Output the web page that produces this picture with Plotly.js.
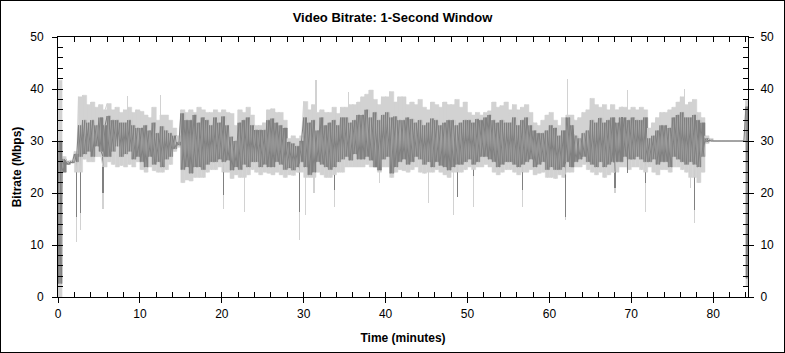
<!DOCTYPE html>
<html>
<head>
<meta charset="utf-8">
<script src="https://cdn.plot.ly/plotly-3.0.1.min.js"></script>
<style>
  html, body { margin: 0; padding: 0; background: #fff; }
  #frame { width: 783px; height: 351px; border: 1px solid #000; }
</style>
</head>
<body>
<div id="frame"><div id="chart"></div></div>
<script>
// ---- DATA ----
const chartTitle = 'Video Bitrate: 1-Second Window';
const xTitle = 'Time (minutes)';
const yTitle = 'Bitrate (Mbps)';
const sampleMinutes = 0.25; // spacing between samples, minutes

// Light gray series (peak), Mbps, one row per minute (4 samples per minute)
const peakMbps = [
  41.7,0,24,27,  26.2,25.6,26.3,26,  28,24,38.5,24,  38.8,26.5,37,26,  37.5,26,36.5,27,
  37,27,25,36,  37.2,26,36,25.5,  36.5,25,35.5,25.3,  36,25,36.5,25.5,  35.5,25,36,26,
  35.7,24.5,35,24,  34.5,25,36.5,24.3,  34,24,35,24,  35,24.5,34,25.5,  32.5,28,31,28.8,
  36,22,35.5,22.5,  36,22.3,35.5,23,  36.5,23,36,23,  35.5,24,35.5,24.5,  36,24.5,35.5,25,
  36,24,35.5,24,  35.3,22.8,33,23.5,  36,23,35.5,23,  36.5,23.5,35,24.5,  33,24,33,23.5,
  33.5,24,36,23.8,  36.2,23.5,35.5,24,  35.5,23.5,34,23,  30.5,23.5,31,23.4,  30.5,24,24,31,
  37.6,23,36,23,  37,23,35.5,24,  36,23.5,35.5,23,  35.5,23,36.5,23.5,  35.3,24,36.5,24,
  36.5,25,37,25,  37,25,37.5,25,  38.5,25,39,25.5,  39.8,25,38,25,  37,24,38.5,25,
  38.5,25,39.5,23,  37.5,24,38.5,24.5,  38.5,24.3,37,24,  37.5,24.5,37,25,  38,24,36.5,23.8,
  36,24,37.5,24,  37,24.5,36.5,24,  37.5,23.5,37,23,  37,24,38,24,  36.5,24,37.5,24.5,
  35.5,25,35,24.5,  35.5,25,35,25,  35.5,25.5,35.8,25,  37.5,24,36.5,23.5,  36.8,24,37.5,24.5,
  36,24.5,37,24,  36,23.5,36.5,24,  37,24,35.5,24.5,  33.5,23.5,33,23.8,  34,24,35,23,
  35.5,23,34,22.8,  33,23.5,34.5,23,  24,35,24,35,  34,25,34.5,25,  35.5,25.5,36,24.5,
  38.2,24,37,23.5,  36.5,24,37,23,  36,23.5,37,24,  24,36,25,36.5,  36.5,25,36,24.5,
  36.5,25,36,25,  36.5,24.5,36,24,  32.5,25,33.5,24,  34.5,23.5,35.5,24.5,  35.5,24.5,36,24,
  36.5,25,37.5,25,  38.5,24.5,37,24,  37.5,23,38,23,  35.5,22,34.5,24,  31,29.5,30.5,30,
  30,30,30,30,  30,30,30,30,  30,30,30,30,  30,30,30,30,
  37.8,2.1
];

// Dark gray series (average), Mbps, one row per minute (4 samples per minute)
const avgMbps = [
  30,2.6,24,26.5,  26,25.5,26,25.8,  27.5,26,33,27,  34,27.5,33.5,28,  34,27,33,29,
  34.5,28,27,33,  34.8,27,34,28,  34,29,33.5,27,  33.5,27.5,34,28,  33,26.5,32.5,27,
  32.5,26,33,25,  32,27,33.5,25.5,  31.5,26,32.8,25,  32,26.5,31.5,27,  31,28.5,29.8,29.2,
  35.3,24.5,34,25,  34,23.8,35,25,  33.5,25,34.5,24.5,  34,25.5,33,26,  34.5,26,33.5,26.5,
  34.7,26,33,26.3,  30.8,24.4,30,25,  33.5,24.5,34,25.5,  34.5,25,33,26,  32.1,26,32.1,25,
  32.1,25.5,34,25,  34.3,25,33.5,26,  33,25.5,32.5,24.5,  29.8,24.8,29.5,24.4,  29,25,26,30,
  34.5,25,33.5,23.5,  34,24,32,26,  34.5,25.5,33,25,  33.5,24.5,34,25,  33,26,34.5,26.5,
  34.5,27,33.5,26.3,  34,27.5,35,26.5,  35,26.5,36,27,  34.5,26.3,35.5,25,  34,24.4,35,26.5,
  35.5,27,34.5,23.8,  34.7,25,34,26,  34,26.5,34.5,25.5,  34.2,26,33.5,27,  34,26.5,33,25.5,
  33.5,26,34.3,25,  34,26,33,25.3,  33.5,25,34,24.4,  34,25,33,25.5,  33.5,25.5,34,26,
  34,26.5,33.5,25.5,  34.2,26,34,27,  34.5,27,35,26.5,  34,26,33.5,25,  34,25.5,33.5,26,
  33.5,26,34.5,25.5,  33,25,34,25.5,  34.5,26,33,26.5,  32,25,31.5,25.5,  31.5,26,32,24.5,
  33,25,32.5,24.5,  31,24.5,32,25,  26,34.5,25,33,  31,26,30.5,26.5,  31.5,27,32,26,
  34,25.5,33.5,25,  34.4,26,33.5,25,  34,25.5,34.5,26,  26,33.5,26,34.5,  34.5,27,34,26.5,
  34.5,26.5,34,27,  34,26.5,34.5,26,  30.5,26,31,26.5,  32,25.5,33,26,  33,26,32.5,25,
  34.5,27,35,26.5,  35.5,26,34.5,25.5,  34.5,26,35,25.5,  34,25,33.5,27,  30.5,29.8,30.2,30,
  30,30,30,30,  30,30,30,30,  30,30,30,30,  30,30,30,30,
  36.6,3.6
];

// Isolated one-sample excursions (minutes, Mbps)
const avgExcursionMinutes = [2.25, 2.75, 5.5, 20.25, 29.5, 33.75, 48.75, 50.75, 56.75, 62.0, 68.0, 69.5, 71.75, 77.75];
const avgExcursionMbps    = [15.4, 16.1, 20,  19.6,  16.4, 20.6,  19.3,  23.3,  20.6,  15.4, 21,   23.8, 22,    16.7];

const peakExcursionMinutes = [2.25, 2.75, 5.5, 8.5, 12.5, 20.25, 22.75, 29.5, 30.25, 31.25, 31.5, 33.75, 35.5, 39.25, 45.25, 48.25, 48.75, 50.75, 56.75, 62.0, 62.25, 68.0, 69.5, 71.75, 76.5, 77.25, 77.75];
const peakExcursionMbps    = [10.6, 12.9, 17,  38.6, 38.8, 17,    16.4,  11,   15.8,  20,    41.7, 17.4,  39.5, 21.9,  18,    15.8,  19.5,  17.4,  17.4,  14.8, 42,    20,   39.8, 16.4,  40,   21,    14.2];

const xTickValues = [0, 10, 20, 30, 40, 50, 60, 70, 80];
const yTickValues = [0, 10, 20, 30, 40, 50];

// ---- BUILD ----
const times = arr => arr.map((_, i) => i * sampleMinutes);

// Range (low-high) bars for each pair of consecutive samples
function rangeBars(vals) {
  const x = [], base = [], h = [];
  for (let i = 0; i + 1 < vals.length; i += 2) {
    const a = vals[i], b = vals[i + 1];
    x.push(i * sampleMinutes + sampleMinutes);
    base.push(Math.min(a, b));
    h.push(Math.abs(a - b));
  }
  return { x, base, h };
}
// Thin bars from the series sample to each excursion value
function excursionBars(series, mins, vals) {
  const x = [], base = [], h = [];
  mins.forEach((t, k) => {
    const idx = Math.min(series.length - 1, Math.round(t / sampleMinutes));
    const a = series[idx], b = vals[k];
    x.push(t);
    base.push(Math.min(a, b));
    h.push(Math.abs(a - b));
  });
  return { x, base, h };
}

const font = 'Liberation Sans, Arial, sans-serif';
const xRange = [0, 84.25];
const yRange = [0, 50];
const lightCol = '#d2d2d2';
const darkCol = '#808080';

const pb = rangeBars(peakMbps);
const ab = rangeBars(avgMbps);
const pe = excursionBars(peakMbps, peakExcursionMinutes, peakExcursionMbps);
const ae = excursionBars(avgMbps, avgExcursionMinutes, avgExcursionMbps);

const traces = [
  { x: pb.x, y: pb.h, base: pb.base, type: 'bar', width: 2 * sampleMinutes,
    marker: { color: lightCol, line: { width: 0.5, color: lightCol } }, hoverinfo: 'skip', showlegend: false },
  { x: pe.x, y: pe.h, base: pe.base, type: 'bar', width: 0.15,
    marker: { color: lightCol, line: { width: 0 } }, hoverinfo: 'skip', showlegend: false },
  { x: times(peakMbps), y: peakMbps, type: 'scatter', mode: 'lines',
    line: { color: lightCol, width: 1 }, hoverinfo: 'skip', showlegend: false },
  { x: ab.x, y: ab.h, base: ab.base, type: 'bar', width: 2 * sampleMinutes,
    marker: { color: darkCol, line: { width: 0.5, color: darkCol } }, hoverinfo: 'skip', showlegend: false },
  { x: ae.x, y: ae.h, base: ae.base, type: 'bar', width: 0.15,
    marker: { color: darkCol, line: { width: 0 } }, hoverinfo: 'skip', showlegend: false },
  { x: times(avgMbps), y: avgMbps, type: 'scatter', mode: 'lines',
    line: { color: darkCol, width: 1 }, hoverinfo: 'skip', showlegend: false },
  // helper traces so the overlay tick axes get drawn
  { x: [null], y: [null], xaxis: 'x', yaxis: 'y2', type: 'scatter', mode: 'lines', showlegend: false },
  { x: [null], y: [null], xaxis: 'x', yaxis: 'y3', type: 'scatter', mode: 'lines', showlegend: false },
  { x: [null], y: [null], xaxis: 'x2', yaxis: 'y', type: 'scatter', mode: 'lines', showlegend: false }
];

const tickFont = { family: font, size: 12, color: '#000' };

const layout = {
  width: 783, height: 351,
  margin: { l: 57, r: 36, t: 36, b: 55 },
  paper_bgcolor: '#fff', plot_bgcolor: '#fff',
  showlegend: false, barmode: 'overlay', bargap: 0,
  title: { text: '<b>' + chartTitle + '</b>', font: { family: font, size: 13, color: '#000' },
           x: 0.5, xanchor: 'center', y: 1 - 16 / 351, yanchor: 'middle' },
  xaxis: {
    range: xRange, tickvals: xTickValues, ticks: 'inside', ticklen: 5, tickwidth: 1, tickcolor: '#000',
    showline: true, linecolor: '#000', linewidth: 1, mirror: 'allticks',
    minor: { dtick: 2, tick0: 0, ticks: 'inside', ticklen: 3, tickwidth: 1, tickcolor: '#000' },
    showgrid: false, zeroline: false, tickfont: tickFont, ticklabelstandoff: 6,
    title: { text: '<b>' + xTitle + '</b>', font: { family: font, size: 12, color: '#000' }, standoff: 13 },
    fixedrange: true
  },
  xaxis2: {
    overlaying: 'x', side: 'bottom', anchor: 'y', range: xRange, tickvals: xTickValues,
    ticks: 'outside', ticklen: 5, tickwidth: 1, tickcolor: '#000',
    showline: false, showgrid: false, zeroline: false, showticklabels: false, fixedrange: true
  },
  yaxis: {
    range: yRange, tickvals: yTickValues, ticks: 'inside', ticklen: 5, tickwidth: 1, tickcolor: '#000',
    showline: true, linecolor: '#000', linewidth: 1, mirror: 'allticks',
    minor: { dtick: 2, tick0: 0, ticks: 'inside', ticklen: 3, tickwidth: 1, tickcolor: '#000' },
    showgrid: false, zeroline: false, tickfont: tickFont, ticklabelstandoff: 11,
    title: { text: '<b>' + yTitle + '</b>', font: { family: font, size: 12, color: '#000' }, standoff: 6 },
    fixedrange: true
  },
  yaxis2: {
    overlaying: 'y', side: 'right', anchor: 'x', range: yRange, tickvals: yTickValues,
    ticks: 'outside', ticklen: 5, tickwidth: 1, tickcolor: '#000',
    showline: false, showgrid: false, zeroline: false, showticklabels: true,
    tickfont: tickFont, ticklabelstandoff: 4, fixedrange: true
  },
  yaxis3: {
    overlaying: 'y', side: 'left', anchor: 'x', range: yRange, tickvals: yTickValues,
    ticks: 'outside', ticklen: 5, tickwidth: 1, tickcolor: '#000',
    showline: false, showgrid: false, zeroline: false, showticklabels: false, fixedrange: true
  }
};

Plotly.newPlot('chart', traces, layout, { staticPlot: true, displayModeBar: false });
</script>
</body>
</html>
